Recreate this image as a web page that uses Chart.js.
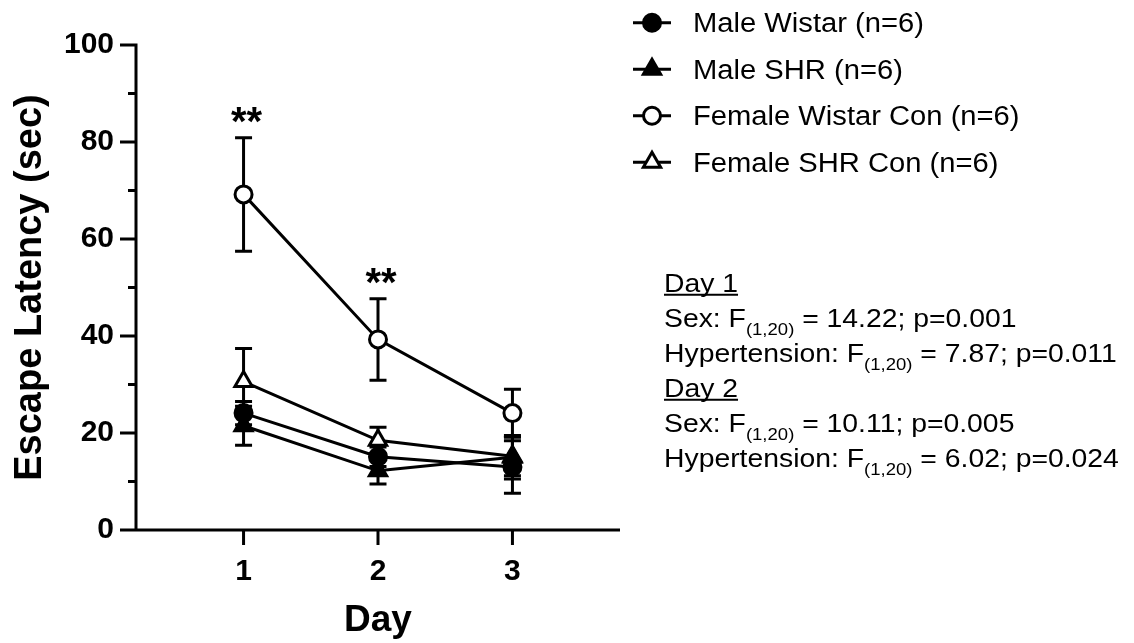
<!DOCTYPE html>
<html><head><meta charset="utf-8">
<script src="https://cdn.jsdelivr.net/npm/chart.js@4.4.0/dist/chart.umd.min.js"></script>
<style>html,body{margin:0;padding:0;background:#fff;} #wrap{position:relative;width:1134px;height:643px;}</style>
</head><body><div id="wrap"><canvas id="c" width="1134" height="643"></canvas></div>
<script>
// ---------------- data ----------------
const days = [1, 2, 3];
const seriesNames = ['Male Wistar (n=6)', 'Male SHR (n=6)', 'Female Wistar Con (n=6)', 'Female SHR Con (n=6)'];
const maleWistarMean = [24.1, 15.1, 13.0];
const maleWistarSem = [2.4, 2.0, 5.4];
const maleShrMean = [21.5, 12.2, 15.0];
const maleShrSem = [4.0, 2.7, 4.5];
const femaleWistarMean = [69.2, 39.3, 24.1];
const femaleWistarSem = [11.7, 8.4, 4.9];
const femaleShrMean = [30.6, 18.5, 15.2];
const femaleShrSem = [6.8, 2.7, 4.0];
const yTicks = [0, 20, 40, 60, 80, 100];
const yMinorTicks = [10, 30, 50, 70, 90];
const xTicks = [1, 2, 3];
const sigDays = [1, 2];
const sigLabel = '**';
const statsLines = [
  ['Day 1'],
  ['Sex: F', '(1,20)', ' = 14.22; p=0.001'],
  ['Hypertension: F', '(1,20)', ' = 7.87; p=0.011'],
  ['Day 2'],
  ['Sex: F', '(1,20)', ' = 10.11; p=0.005'],
  ['Hypertension: F', '(1,20)', ' = 6.02; p=0.024']
];

// ---------------- chart ----------------
const FONT = "'Liberation Sans', Arial, Helvetica, sans-serif";
const pts = (m) => days.map((d, i) => ({x: d, y: m[i]}));
function ds(label, mean, sem, style, filled, r) {
  return {
    label, data: pts(mean), sem, mean,
    borderColor: '#000', borderWidth: 3,
    pointStyle: style, pointRadius: r, pointHoverRadius: r,
    pointBorderWidth: 3, pointBorderColor: '#000',
    pointBackgroundColor: filled ? '#000' : '#fff',
    backgroundColor: filled ? '#000' : '#fff',
    showLine: true, tension: 0, fill: false,
    filledMarker: filled
  };
}
const datasets = [
  ds(seriesNames[0], maleWistarMean, maleWistarSem, 'circle', true, 8.5),
  ds(seriesNames[1], maleShrMean, maleShrSem, 'triangle', true, 10),
  ds(seriesNames[2], femaleWistarMean, femaleWistarSem, 'circle', false, 8.5),
  ds(seriesNames[3], femaleShrMean, femaleShrSem, 'triangle', false, 10)
];

function drawMarker(ctx, style, x, y, r, filled) {
  ctx.save();
  ctx.lineWidth = 3; ctx.strokeStyle = '#000';
  ctx.fillStyle = filled ? '#000' : '#fff';
  ctx.beginPath();
  if (style === 'circle') {
    ctx.arc(x, y, r, 0, Math.PI * 2);
  } else {
    let a = 0;
    ctx.moveTo(x + Math.sin(a) * r, y - Math.cos(a) * r);
    a += 2 * Math.PI / 3;
    ctx.lineTo(x + Math.sin(a) * r, y - Math.cos(a) * r);
    a += 2 * Math.PI / 3;
    ctx.lineTo(x + Math.sin(a) * r, y - Math.cos(a) * r);
    ctx.closePath();
  }
  ctx.fill(); ctx.stroke();
  ctx.restore();
}

const errorBars = {
  id: 'errorBars',
  beforeDatasetsDraw(chart) {
    const {ctx, scales: {x, y}} = chart;
    ctx.save();
    ctx.strokeStyle = '#000'; ctx.lineWidth = 3; ctx.lineCap = 'butt';
    chart.data.datasets.forEach((d) => {
      d.mean.forEach((m, j) => {
        const px = x.getPixelForValue(days[j]);
        const t = y.getPixelForValue(m + d.sem[j]);
        const b = y.getPixelForValue(m - d.sem[j]);
        ctx.beginPath();
        ctx.moveTo(px, t); ctx.lineTo(px, b);
        ctx.moveTo(px - 8.5, t); ctx.lineTo(px + 8.5, t);
        ctx.moveTo(px - 8.5, b); ctx.lineTo(px + 8.5, b);
        ctx.stroke();
      });
    });
    ctx.restore();
  }
};

const decorations = {
  id: 'decorations',
  afterDraw(chart) {
    const {ctx, chartArea: ca, scales: {x, y}} = chart;
    ctx.save();
    ctx.strokeStyle = '#000'; ctx.fillStyle = '#000'; ctx.lineWidth = 3; ctx.lineCap = 'butt';
    // axes
    const y0 = y.getPixelForValue(0);
    const yTop = y.getPixelForValue(100);
    ctx.beginPath();
    ctx.moveTo(ca.left, yTop - 1.5); ctx.lineTo(ca.left, y0);
    ctx.moveTo(ca.left - 16, y0); ctx.lineTo(ca.right, y0);
    yTicks.forEach(v => { const p = y.getPixelForValue(v); ctx.moveTo(ca.left - 16, p); ctx.lineTo(ca.left, p); });
    yMinorTicks.forEach(v => { const p = y.getPixelForValue(v); ctx.moveTo(ca.left - 8, p); ctx.lineTo(ca.left, p); });
    xTicks.forEach(v => { const p = x.getPixelForValue(v); ctx.moveTo(p, y0); ctx.lineTo(p, y0 + 15); });
    ctx.stroke();

    // significance stars
    ctx.font = 'bold 40px ' + FONT;
    ctx.textAlign = 'center'; ctx.textBaseline = 'alphabetic';
    const fw = chart.data.datasets[2];
    sigDays.forEach(d => {
      const j = days.indexOf(d);
      const top = y.getPixelForValue(fw.mean[j] + fw.sem[j]);
      ctx.fillText(sigLabel, x.getPixelForValue(d) + 3, top - 25 + 0.55 * 40);
    });

    // legend
    const lx0 = 633, lx1 = 671, lmx = 652, ltx = 693, ly0 = 22.7, lstep = 46.5;
    chart.data.datasets.forEach((d, i) => {
      const cy = ly0 + i * lstep;
      ctx.lineWidth = 3;
      ctx.beginPath(); ctx.moveTo(lx0, cy); ctx.lineTo(lx1, cy); ctx.stroke();
      drawMarker(ctx, d.pointStyle, lmx, cy, d.pointRadius, d.filledMarker);
      ctx.save();
      ctx.font = '27px ' + FONT;
      ctx.textAlign = 'left'; ctx.textBaseline = 'alphabetic'; ctx.fillStyle = '#000';
      ctx.translate(ltx, cy + 9.7);
      ctx.scale(1.08, 1);
      ctx.fillText(d.label, 0, 0);
      ctx.restore();
    });

    // stats text
    const sx = 664, sb0 = 291.7, sstep = 35, sScale = 1.09;
    statsLines.forEach((parts, i) => {
      const base = sb0 + i * sstep;
      ctx.save();
      ctx.translate(sx, base);
      ctx.scale(sScale, 1);
      ctx.textAlign = 'left'; ctx.textBaseline = 'alphabetic'; ctx.fillStyle = '#000';
      let cx = 0;
      parts.forEach((p, k) => {
        const sub = (k === 1);
        ctx.font = (sub ? '17px ' : '26px ') + FONT;
        ctx.fillText(p, cx, sub ? 8 : 0);
        cx += ctx.measureText(p).width;
      });
      if (parts.length === 1) {
        ctx.lineWidth = 2;
        ctx.beginPath(); ctx.moveTo(0, 3); ctx.lineTo(cx, 3); ctx.stroke();
      }
      ctx.restore();
    });
    ctx.restore();
  }
};

new Chart(document.getElementById('c'), {
  type: 'line',
  data: {datasets},
  options: {
    responsive: false, animation: false, devicePixelRatio: 1,
    layout: {padding: {left: 0, right: 514, top: 45, bottom: 0}},
    plugins: {legend: {display: false}, tooltip: {enabled: false}},
    scales: {
      x: {
        type: 'linear', min: 0.2, max: 3.8,
        afterBuildTicks: s => { s.ticks = xTicks.map(v => ({value: v})); },
        grid: {display: false, drawTicks: false}, border: {display: false},
        ticks: {padding: 24, color: '#000', maxRotation: 0, autoSkip: false,
          font: {family: FONT, size: 30, weight: 'bold'}, callback: v => String(v)},
        title: {display: true, text: 'Day', color: '#000',
          font: {family: FONT, size: 37, weight: 'bold', lineHeight: 1.2}, padding: {top: 0, bottom: 0}},
        afterFit: s => { s.height = 113; }
      },
      y: {
        min: 0, max: 100,
        afterBuildTicks: s => { s.ticks = yTicks.map(v => ({value: v})); },
        grid: {display: false, drawTicks: false}, border: {display: false},
        ticks: {padding: 22, color: '#000', font: {family: FONT, size: 30, weight: 'bold'}, callback: v => String(v)},
        title: {display: true, text: 'Escape Latency (sec)', color: '#000',
          font: {family: FONT, size: 38, weight: 'bold', lineHeight: 1.2}, padding: {top: 8, bottom: 0}},
        afterFit: s => { s.width = 136; }
      }
    }
  },
  plugins: [errorBars, decorations]
});
</script></body></html>
